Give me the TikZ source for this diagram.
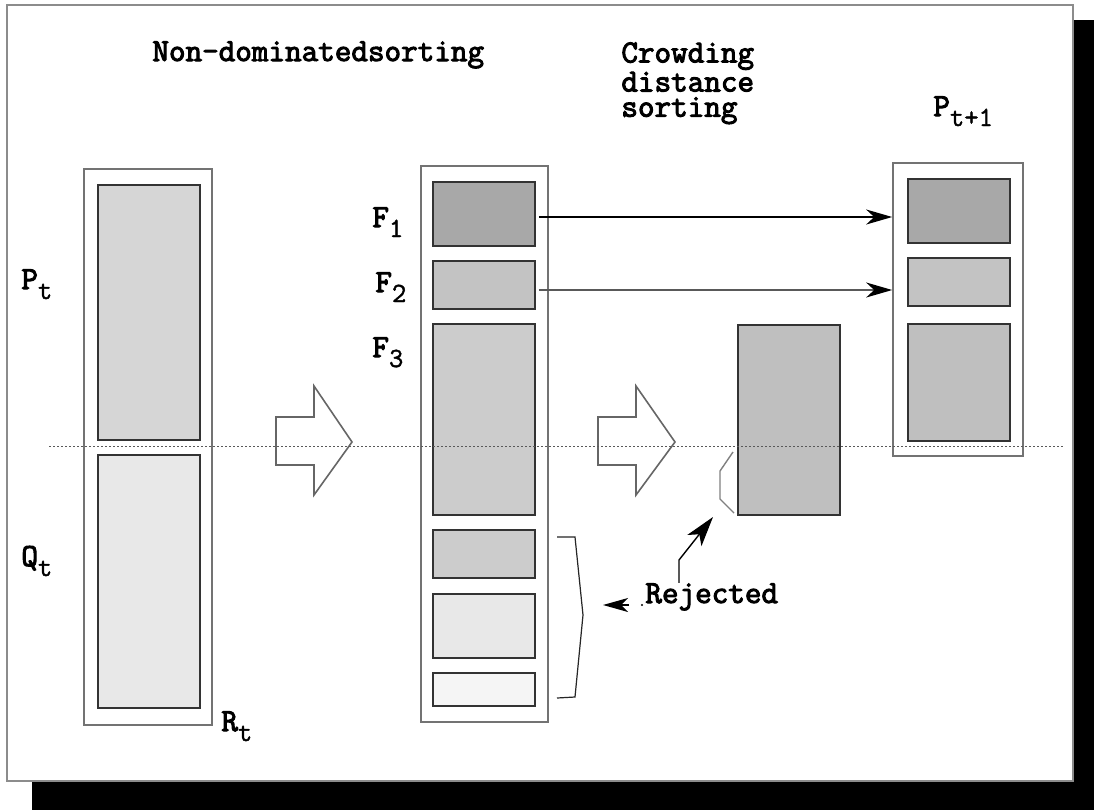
\documentclass[tikz,border=0pt]{standalone}
\usepackage{fontspec}
\usetikzlibrary{arrows.meta,fit}

% stroke the glyph outlines as well as filling them, for a heavier typewriter face
\newcommand\heavyink{\special{pdf:literal 2 Tr 0.5 w}}
\newcommand\lightink{\special{pdf:literal 2 Tr 0.2 w}}
% typewriter letter followed by a lowered index
\newcommand\idxlbl[2]{#1\raisebox{-5pt}{\fontsize{13.9}{13.9}\selectfont\lightink #2}}

\definecolor{shadeA}{gray}{0.66}
\definecolor{shadeB}{gray}{0.765}
\definecolor{shadeC}{gray}{0.80}
\definecolor{shadeD}{gray}{0.84}
\definecolor{shadeE}{gray}{0.91}
\definecolor{shadeF}{gray}{0.96}
\definecolor{shadeG}{gray}{0.75}

\begin{document}
\begin{tikzpicture}[x=0.5pt,y=-0.5pt,
  lbl/.style={inner sep=0pt, anchor=base west, font=\ttfamily\fontsize{16.1}{12.6}\selectfont\heavyink},
  column/.style={draw=black!55, line width=0.8pt, fill=white, inner sep=0pt},
  front/.style={draw=black!80, line width=0.75pt, inner sep=0pt},
  conn/.style={line width=0.7pt, -{Stealth[length=13pt,width=7.5pt,inset=4pt,color=black]}},
  blockarrow/.style={draw=black!60, line width=0.8pt, fill=white, line join=miter},
  guide/.style={draw=black!65, line width=0.5pt, dash pattern=on 1pt off 1pt}]

\useasboundingbox (0,0) rectangle (1094,810);

% page with drop shadow
\fill[black] (1073,20) rectangle (1094,810);
\fill[black] (32,781) rectangle (1094,810);
\draw[black!45, line width=0.8pt, fill=white] (7,5) rectangle (1073,781);

% headings
\node[lbl] (hnds) at (152,61) {Non-dominatedsorting};
\node[lbl, align=left, anchor=north west] (hcds) at (621,42)
  {Crowding\\distance\\sorting};

% combined population R_t
\node[column, fit={(84,169) (212,725)}] (Rt) {};
\node[front, fill=shadeD, fit={(98,185) (200,440)}] (Pt) {};
\node[front, fill=shadeE, fit={(98,455) (200,708)}] (Qt) {};
\node[lbl] (lPt) at (21,289) {\idxlbl{P}{t}};
\node[lbl] (lQt) at (21,566) {\idxlbl{Q}{t}};
\node[lbl] (lRt) at (221,731) {\idxlbl{R}{t}};

% fronts after non-dominated sorting
\node[column, fit={(421,166) (548,722)}] (fronts) {};
\node[front, fill=shadeA, fit={(433,182) (535,246)}] (F1) {};
\node[front, fill=shadeB, fit={(433,261) (535,309)}] (F2) {};
\node[front, fill=shadeC, fit={(433,324) (535,515)}] (F3) {};
\node[front, fill=shadeC, fit={(433,530) (535,578)}] (F4) {};
\node[front, fill=shadeE, fit={(433,594) (535,658)}] (F5) {};
\node[front, fill=shadeF, fit={(433,673) (535,706)}] (F6) {};
\node[lbl] (lF1) at (372,227) {\idxlbl{F}{1}};
\node[lbl] (lF2) at (375,292) {\idxlbl{F}{2}};
\node[lbl] (lF3) at (372,357) {\idxlbl{F}{3}};

% front 3 after crowding distance sorting
\node[front, fill=shadeG, fit={(738,325) (840,515)}] (F3s) {};

% next population
\node[column, fit={(893,163) (1023,456)}] (Pnext) {};
\node[front, fill=shadeA, fit={(908,179) (1010,243)}] (N1) {};
\node[front, fill=shadeB, fit={(908,258) (1010,306)}] (N2) {};
\node[front, fill=shadeG, fit={(908,324) (1010,441)}] (N3) {};
\node[lbl] (lPn) at (933,116) {\idxlbl{P}{t+1}};

% fronts copied into P_{t+1}
\draw[conn] ([xshift=1.5pt,yshift=-1.5pt]F1.east) -- ([yshift=-1.5pt]F1.east -| Pnext.west);
\draw[conn, draw=black!65] ([xshift=1.5pt,yshift=-2.5pt]F2.east) -- ([yshift=-2.5pt]F2.east -| Pnext.west);

% process arrows
\draw[blockarrow] (276,417) -- (314,417) -- (314,386) -- (352,442) -- (314,495)
  -- (314,465) -- (276,465) -- cycle;
\draw[blockarrow] (598,417) -- (636,417) -- (636,386) -- (675,442) -- (636,495)
  -- (636,465) -- (598,465) -- cycle;

% rejected parts
\draw[black!85, line width=0.6pt] (557,537) -- (575,537) -- (583,615) -- (575,697) -- (557,698);
\draw[black!50, line width=0.7pt] (733,452) -- (720,471) -- (720,499) -- (734,513);
\node[lbl] (rej) at (645,603) {Rejected};
\coordinate (rejbend) at (679,560);
\coordinate (rejtip) at (713,517);
\draw[line width=0.7pt, -{Stealth[length=15pt,width=9pt,inset=4pt]}]
  (rej.north -| rejbend) -- (rejbend) -- (rejtip);
\coordinate (brtip) at (603,605);
\coordinate (rejleft) at (629,605);
\draw[line width=0.7pt, -{Stealth[length=12.5pt,width=7pt,inset=3.5pt]}] (rejleft) -- (brtip);
\fill (642,605) circle (0.6pt);

% population boundary
\draw[guide] (49,446) -- (1064,446);

\end{tikzpicture}
\end{document}
